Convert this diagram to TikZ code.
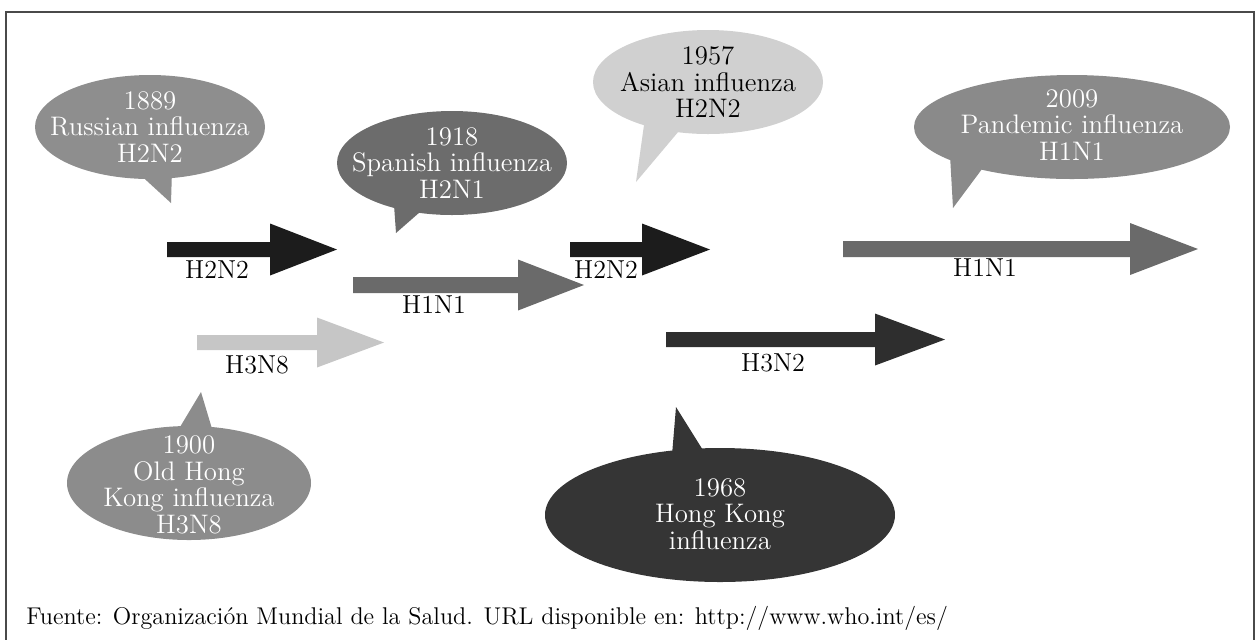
\documentclass[tikz,border=0pt]{standalone}
\usetikzlibrary{shapes.geometric}
\definecolor{cRus}{HTML}{8E8E8E}
\definecolor{cSpa}{HTML}{6C6C6C}
\definecolor{cAsi}{HTML}{D0D0D0}
\definecolor{cPan}{HTML}{8A8A8A}
\definecolor{cOld}{HTML}{8C8C8C}
\definecolor{cHK}{HTML}{353535}
\definecolor{aBlack}{HTML}{1C1C1C}
\definecolor{aGray}{HTML}{6A6A6A}
\definecolor{aLight}{HTML}{C6C6C6}
\definecolor{aDark}{HTML}{2E2E2E}
\definecolor{frameC}{HTML}{4A4A4A}
\newcommand\blockarr[7]{% x0, xh, x1, yc, half shaft, half head, colour
  \fill[#7] (#1,#4-#5) -- (#2,#4-#5) -- (#2,#4-#6) -- (#3,#4) -- (#2,#4+#6) -- (#2,#4+#5) -- (#1,#4+#5) -- cycle;}
\tikzset{
  bubble/.style={ellipse, inner sep=0pt, draw=none},
  btext/.style={inner sep=0pt, align=center, text=white,
    font=\fontsize{13.4}{13.3}\selectfont},
  lab/.style={inner sep=0pt, font=\fontsize{13}{14}\selectfont},
  note/.style={inner sep=0pt, anchor=west, font=\fontsize{12.1}{14}\selectfont},
}
\begin{document}
\begin{tikzpicture}[x=0.5pt, y=-0.5pt]
\useasboundingbox (0,0) rectangle (1259,639);
% frame
\draw[frameC, line width=0.8pt] (6,645) -- (6,12) -- (1254,12) -- (1254,645);

% tails
\fill[cRus] (135,170) -- (172,170) -- (171,203) -- cycle;
\fill[cSpa] (394,205) -- (428,205) -- (396,233) -- cycle;
\fill[cAsi] (644,125) -- (684,125) -- (636,182) -- cycle;
\fill[cPan] (950,155) -- (985,165) -- (953,208) -- cycle;
\fill[cOld] (177,432) -- (213,432) -- (201,392) -- cycle;
\fill[cHK] (672,455) -- (706,455) -- (676,407) -- cycle;

% bubbles
\node[bubble, fill=cRus, minimum width=115pt, minimum height=52pt] (b1889) at (150,127) {};
\node[btext] (t1889) at (b1889) {1889\\Russian influenza\\H2N2};
\node[bubble, fill=cSpa, minimum width=115pt, minimum height=52pt] (b1918) at (452,163) {};
\node[btext] (t1918) at (b1918) {1918\\Spanish influenza\\H2N1};
\node[bubble, fill=cAsi, minimum width=115pt, minimum height=52pt] (b1957) at (708,82) {};
\node[btext, text=black] (t1957) at (b1957) {1957\\Asian influenza\\H2N2};
\node[bubble, fill=cPan, minimum width=158pt, minimum height=52pt] (b2009) at (1072,127) {};
\node[btext] (t2009) at (1072,125) {2009\\Pandemic influenza\\H1N1};
\node[bubble, fill=cOld, minimum width=122pt, minimum height=57pt] (b1900) at (189,483) {};
\node[btext] (t1900) at (189,485) {1900\\Old Hong\\Kong influenza\\H3N8};
\node[bubble, fill=cHK, minimum width=175pt, minimum height=67pt] (b1968) at (720,515) {};
\node[btext] (t1968) at (720,514) {1968\\Hong Kong\\influenza};

% block arrows
\blockarr{167}{270}{337}{249.5}{7.5}{26}{aBlack}
\blockarr{353}{518}{584}{285}{8}{25.5}{aGray}
\blockarr{197}{317}{384}{342.5}{7.5}{25}{aLight}
\blockarr{570}{642}{710}{249.5}{7.5}{26}{aBlack}
\blockarr{843}{1130}{1198}{249}{8}{26}{aGray}
\blockarr{666}{875}{945}{339.5}{7.5}{26}{aDark}

% arrow labels
\node[lab] (l1) at (217,270) {H2N2};
\node[lab] (l2) at (434,305) {H1N1};
\node[lab] (l3) at (257,365) {H3N8};
\node[lab] (l4) at (606,270) {H2N2};
\node[lab] (l5) at (985,268) {H1N1};
\node[lab] (l6) at (773,363) {H3N2};

% source
\node[note] (src) at (26,618) {Fuente: Organización Mundial de la Salud. URL disponible en: http://www.who.int/es/};
\end{tikzpicture}
\end{document}
